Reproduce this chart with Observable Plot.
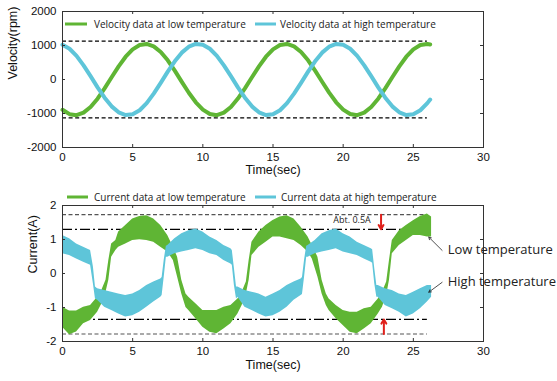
<!DOCTYPE html>
<html><head><meta charset="utf-8">
<script src="https://cdn.jsdelivr.net/npm/d3@7"></script>
<script src="https://cdn.jsdelivr.net/npm/@observablehq/plot@0.6"></script>
<style>
body{margin:0;background:#fff;}
#wrap{position:relative;width:557px;height:381px;overflow:hidden;background:#fff;}
.panel{position:absolute;left:0;}
.leg{position:absolute;font-family:"Open Sans",sans-serif;font-size:10px;color:#222;white-space:nowrap;line-height:1;transform:translateY(-50%);}
.sw{position:absolute;height:3px;transform:translateY(-50%);}
</style></head><body><div id="wrap"></div>
<script>
const GREEN = "#5fb534";
const CYAN = "#5ec5d9";
const RED = "#e0201b";

const xTicks = [0, 5, 10, 15, 20, 25, 30];
const velTicks = [-2000, -1000, 0, 1000, 2000];
const curTicks = [-2, -1, 0, 1, 2];

const velLabels = ["Velocity data at low temperature", "Velocity data at high temperature"];
const curLabels = ["Current data at low temperature", "Current data at high temperature"];

// velocity (rpm), read every 0.5 s
const velTime = [0,0.5,1,1.5,2,2.5,3,3.5,4,4.5,5,5.5,6,6.5,7,7.5,8,8.5,9,9.5,
  10,10.5,11,11.5,12,12.5,13,13.5,14,14.5,15,15.5,16,16.5,17,17.5,18,18.5,19,19.5,
  20,20.5,21,21.5,22,22.5,23,23.5,24,24.5,25,25.5,26,26.2];
const velLow = [-890,-1020,-1050,-975,-810,-565,-260,65,385,670,885,1015,1045,975,810,565,260,-70,-390,-670,
  -885,-1015,-1050,-975,-810,-560,-260,65,385,670,885,1015,1045,975,810,565,260,-65,-385,-670,
  -885,-1015,-1050,-975,-810,-565,-260,65,385,670,885,1015,1045,1030];
const velHigh = [1020,905,695,415,100,-230,-535,-790,-965,-1045,-1025,-905,-695,-415,-100,230,535,790,965,1045,
  1025,905,695,415,100,-230,-535,-790,-965,-1045,-1025,-905,-695,-415,-100,230,535,790,965,1045,
  1025,905,695,415,100,-230,-535,-790,-965,-1045,-1025,-905,-695,-590];
const velLimits = [1130, -1130];
const limitSpan = [0, 26];

// current (A): noisy band, lower and upper edge
const curLowTime = [0,0.5,1,1.5,2,2.5,2.8,3.1,3.3,3.5,3.8,4,4.5,5,5.5,6,6.5,7,7.5,7.9,8.2,8.5,8.8,9,9.5,
  10,10.5,11,11.5,12,12.5,12.8,13.1,13.3,13.5,14,14.5,15,15.5,16,16.5,17,17.5,17.8,18.2,18.5,18.8,19,19.5,
  20,20.5,21,21.5,22,22.5,22.8,23.1,23.3,23.5,24,24.5,25,25.5,26,26.3];
const curLowMin = [-1.58,-1.8,-1.72,-1.48,-1.38,-1.14,-0.9,-0.55,-0.2,0.48,0.68,0.77,0.87,0.97,0.99,0.97,0.92,0.77,0.63,0.38,-0.1,-0.6,-1.0,-1.09,-1.33,
  -1.58,-1.73,-1.77,-1.63,-1.48,-1.19,-0.94,-0.6,-0.2,0.53,0.77,0.92,1.07,1.07,1.02,0.97,0.82,0.63,0.43,-0.1,-0.6,-0.94,-1.09,-1.33,
  -1.53,-1.73,-1.77,-1.63,-1.48,-1.19,-0.99,-0.65,-0.2,0.58,0.82,0.97,1.12,1.12,1.07,1.07];
const curLowMax = [-0.99,-1.1,-1.1,-0.99,-0.94,-0.7,-0.5,-0.2,0.38,0.87,0.97,1.22,1.41,1.6,1.68,1.7,1.6,1.41,1.12,0.77,0.48,-0.2,-0.6,-0.7,-0.89,
  -1.09,-1.09,-1.09,-0.99,-0.94,-0.75,-0.55,-0.25,0.38,0.92,1.22,1.41,1.56,1.66,1.7,1.6,1.36,1.07,0.82,0.48,-0.2,-0.6,-0.75,-0.94,
  -1.09,-1.14,-1.14,-1.04,-0.99,-0.75,-0.55,-0.25,0.38,0.97,1.26,1.41,1.55,1.68,1.75,1.66];

const curHighTime = [0,0.5,1,1.5,2,2.2,2.35,2.5,3,3.5,4,4.5,5,5.5,6,6.5,7,7.1,7.25,7.4,7.5,8,8.5,9,9.5,
  10,10.5,11,11.5,12,12.1,12.25,12.4,12.5,13,13.5,14,14.5,15,15.5,16,16.5,17,17.1,17.25,17.4,17.5,18,18.5,19,19.5,
  20,20.5,21,21.5,22,22.1,22.25,22.4,22.5,23,23.5,24,24.5,25,25.5,26,26.3];
const curHighMin = [0.58,0.53,0.43,0.33,0.24,-0.3,-0.75,-0.79,-0.99,-1.09,-1.19,-1.28,-1.24,-1.14,-0.99,-0.84,-0.7,-0.65,-0.1,0.48,0.48,0.58,0.63,0.68,0.73,
  0.68,0.58,0.53,0.38,0.28,0.24,-0.35,-0.75,-0.7,-0.99,-1.09,-1.19,-1.28,-1.24,-1.14,-0.99,-0.79,-0.65,-0.62,-0.1,0.48,0.48,0.58,0.63,0.68,0.73,
  0.63,0.58,0.53,0.43,0.33,0.3,-0.3,-0.7,-0.7,-0.94,-1.04,-1.14,-1.28,-1.19,-1.04,-0.84,-0.7];
const curHighMax = [1.12,1.02,0.87,0.77,0.68,0.2,-0.4,-0.45,-0.5,-0.55,-0.6,-0.65,-0.6,-0.5,-0.35,-0.25,-0.16,-0.12,0.4,0.8,0.82,1.02,1.17,1.26,1.31,
  1.22,1.07,0.97,0.82,0.73,0.68,0.15,-0.4,-0.4,-0.5,-0.55,-0.6,-0.7,-0.6,-0.5,-0.35,-0.25,-0.16,-0.12,0.4,0.8,0.82,0.97,1.17,1.26,1.31,
  1.17,1.07,0.92,0.82,0.73,0.7,0.15,-0.35,-0.35,-0.45,-0.5,-0.6,-0.65,-0.55,-0.45,-0.35,-0.35];

const curOuter = [1.73, -1.78];
const curInner = [1.3, -1.35];

// annotations
const gapLabel = ["Abt. 0.5A"];
const gapLabelPos = [19.3, 1.56];
const gapArrowT = [22.7, 22.9];
const gapArrowFrom = [1.73, -1.78];
const gapArrowTo = [1.3, -1.35];
const noteText = ["Low temperature", "High temperature"];
const noteT = [27.45, 27.45];
const noteV = [0.69, -0.25];
const noteArrowFromT = [27.05, 27.05];
const noteArrowFromV = [0.68, -0.26];
const noteArrowToT = [26.1, 26.1];
const noteArrowToV = [1.07, -0.55];

const FONT = "Liberation Sans, Arial, sans-serif";
const W = 557, ML = 62, MR = 74;
const innerW = W - ML - MR;
const plain = d => String(d);

function frameMarks(yTicks, innerH) {
  return [
    Plot.tickX(xTicks, {x: d => d, insetTop: innerH - 3, stroke: "#333"}),
    Plot.tickX(xTicks, {x: d => d, insetBottom: innerH - 3, stroke: "#333"}),
    Plot.tickY(yTicks, {y: d => d, insetRight: innerW - 3, stroke: "#333"}),
    Plot.tickY(yTicks, {y: d => d, insetLeft: innerW - 3, stroke: "#333"}),
    Plot.frame({stroke: "#333"})
  ];
}

const velPlot = Plot.plot({
  width: W, height: 185, marginLeft: ML, marginRight: MR, marginTop: 11, marginBottom: 38,
  style: {fontFamily: FONT, fontSize: "11.5px", color: "#111", background: "transparent"},
  x: {domain: [0, 30], ticks: xTicks, tickSize: 0, tickPadding: 5, label: null, tickFormat: plain},
  y: {domain: [-2000, 2000], ticks: velTicks, tickSize: 0, tickPadding: 6, label: null, tickFormat: plain},
  marks: [
    Plot.ruleY(velLimits, {y: d => d, x1: () => limitSpan[0], x2: () => limitSpan[1], stroke: "#000", strokeWidth: 1.2, strokeDasharray: "4,2.6"}),
    Plot.line(velTime, {x: d => d, y: (d, i) => velLow[i], stroke: GREEN, strokeWidth: 4}),
    Plot.line(velTime, {x: d => d, y: (d, i) => velHigh[i], stroke: CYAN, strokeWidth: 4}),
    ...frameMarks(velTicks, 136),
    Plot.text(["Time(sec)"], {frameAnchor: "bottom", dy: 26, fontSize: 12.5}),
    Plot.text(["Velocity(rpm)"], {frameAnchor: "left", dx: -50, rotate: -90, fontSize: 12.5})
  ]
});

const curPlot = Plot.plot({
  width: W, height: 196, marginLeft: ML, marginRight: MR, marginTop: 20, marginBottom: 40,
  style: {fontFamily: FONT, fontSize: "11.5px", color: "#111", background: "transparent", overflow: "visible"},
  x: {domain: [0, 30], ticks: xTicks, tickSize: 0, tickPadding: 5, label: null, tickFormat: plain},
  y: {domain: [-2, 2], ticks: curTicks, tickSize: 0, tickPadding: 6, label: null, tickFormat: plain},
  marks: [
    Plot.ruleY(curOuter, {y: d => d, x1: () => limitSpan[0], x2: () => limitSpan[1], stroke: "#555", strokeWidth: 1.2, strokeDasharray: "4,2.5"}),
    Plot.ruleY(curInner, {y: d => d, x1: () => limitSpan[0], x2: () => limitSpan[1], stroke: "#000", strokeWidth: 1.3, strokeDasharray: "10,3,2,3"}),
    Plot.areaY(curLowTime, {x: d => d, y1: (d, i) => curLowMin[i], y2: (d, i) => curLowMax[i], fill: GREEN}),
    Plot.areaY(curHighTime, {x: d => d, y1: (d, i) => curHighMin[i], y2: (d, i) => curHighMax[i], fill: CYAN}),
    ...frameMarks(curTicks, 136),
    Plot.text(gapLabel, {x: () => gapLabelPos[0], y: () => gapLabelPos[1], textAnchor: "start", fontSize: 9, fontFamily: "Open Sans, sans-serif", fill: "#222"}),
    Plot.arrow(gapArrowT, {x1: d => d, x2: d => d, y1: (d, i) => gapArrowFrom[i], y2: (d, i) => gapArrowTo[i], stroke: RED, strokeWidth: 2, headLength: 6}),
    Plot.arrow(noteText, {x1: (d, i) => noteArrowFromT[i], y1: (d, i) => noteArrowFromV[i], x2: (d, i) => noteArrowToT[i], y2: (d, i) => noteArrowToV[i], stroke: "#222", strokeWidth: 0.8, headLength: 5}),
    Plot.text(noteText, {x: (d, i) => noteT[i], y: (d, i) => noteV[i], textAnchor: "start", fontSize: 13, fontFamily: "Open Sans, sans-serif", fill: "#222"}),
    Plot.text(["Time(sec)"], {frameAnchor: "bottom", dy: 27, fontSize: 12.5}),
    Plot.text(["Current(A)"], {frameAnchor: "left", dx: -29.5, rotate: -90, fontSize: 12.5})
  ]
});

const wrap = document.getElementById("wrap");
function place(el, y) { el.classList.add("panel"); el.style.top = y + "px"; wrap.appendChild(el); }
place(velPlot, 0);
place(curPlot, 185);

function legend(labels, y, layout) {
  labels.forEach((lab, i) => {
    const L = layout[i];
    const sw = document.createElement("div");
    sw.className = "sw";
    sw.style.left = L[0] + "px"; sw.style.width = (L[1] - L[0]) + "px"; sw.style.top = y + "px";
    sw.style.background = [GREEN, CYAN][i];
    wrap.appendChild(sw);
    const t = document.createElement("div");
    t.className = "leg";
    t.style.left = L[2] + "px"; t.style.top = y + "px";
    t.textContent = lab;
    wrap.appendChild(t);
  });
}
legend(velLabels, 24, [[65, 87, 94], [255, 276, 280]]);
legend(curLabels, 197, [[67, 88, 94], [255, 276, 281]]);
</script>
</body></html>
